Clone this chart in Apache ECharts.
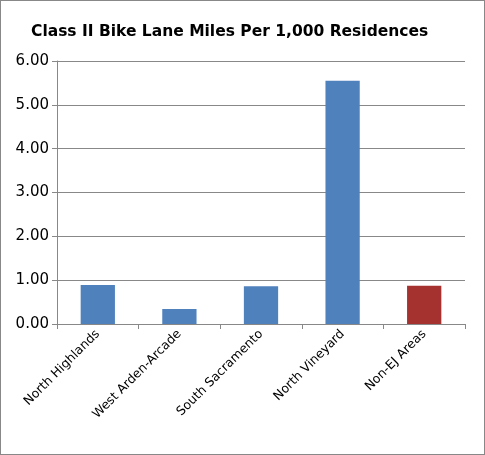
<!DOCTYPE html>
<html><head><meta charset="utf-8">
<script src="https://cdn.jsdelivr.net/npm/echarts@6/dist/echarts.min.js"></script>
<style>html,body{margin:0;padding:0;background:#fff}#c{width:485px;height:455px;box-sizing:border-box;border:1px solid #888}</style>
</head><body><div id="c"></div>
<script>
const categories = ["North Highlands","West Arden-Arcade","South Sacramento","North Vineyard","Non-EJ Areas"];
const values = [0.89, 0.34, 0.86, 5.55, 0.87];
const barColors = ["#4F81BD","#4F81BD","#4F81BD","#4F81BD","#A5322F"];
const yTicks = [0,1,2,3,4,5,6];
const chart = echarts.init(document.getElementById('c'));
chart.setOption({
  animation:false,
  title:{text:"Class II Bike Lane Miles Per 1,000 Residences",left:25,top:18,textStyle:{fontFamily:"DejaVu Sans",fontWeight:"bold",fontSize:15.5,color:"#000"}},
  grid:{left:56,right:19,top:60,bottom:130},
  xAxis:{type:"category",data:categories,axisTick:{show:true,alignWithLabel:false,length:5,lineStyle:{color:"#888"}},axisLine:{lineStyle:{color:"#888"}},
    axisLabel:{rotate:45,fontFamily:"DejaVu Sans",fontSize:12.5,color:"#000",interval:0,margin:8}},
  yAxis:{type:"value",min:0,max:6,interval:1,axisLine:{show:true,lineStyle:{color:"#888"}},axisTick:{show:true,length:5,lineStyle:{color:"#888"}},
    splitLine:{lineStyle:{color:"#888"}},
    axisLabel:{formatter:v=>v.toFixed(2),fontFamily:"DejaVu Sans",fontSize:15,color:"#000",margin:8}},
  series:[{type:"bar",barWidth:"42%",data:values.map((v,i)=>({value:v,itemStyle:{color:barColors[i]}}))}]
});
</script></body></html>
